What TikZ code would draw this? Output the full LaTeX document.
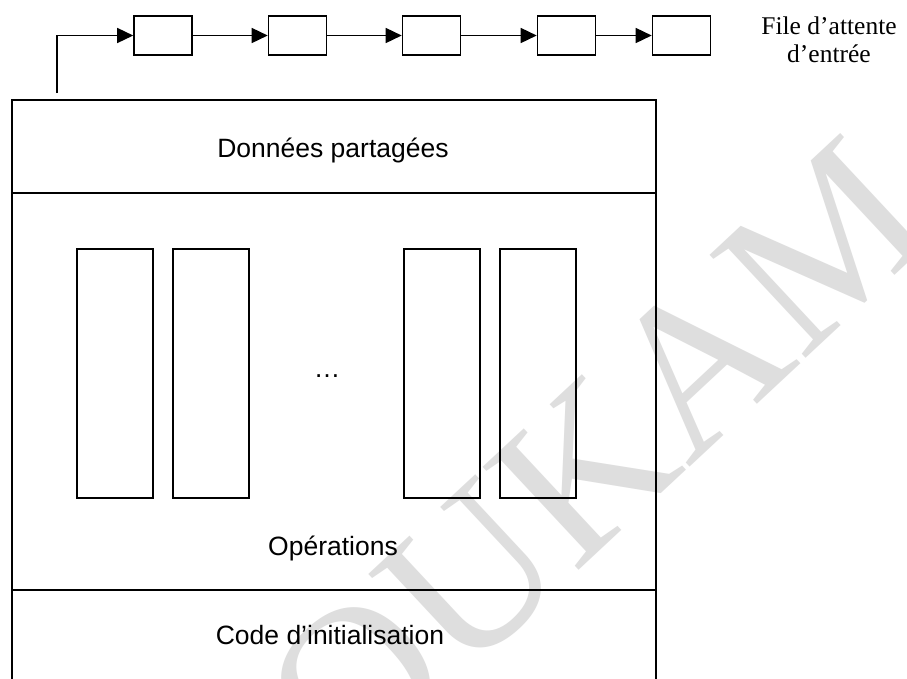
\documentclass[tikz,border=0pt]{standalone}
\usepackage{fontspec}
\setmainfont{Liberation Serif}
\newfontfamily\arialfont{Liberation Sans}
\usetikzlibrary{arrows.meta}

\tikzset{
  frame/.style={line width=2.2pt},
  qbox/.style={draw, line width=1.6pt, minimum width=58pt, minimum height=39pt, inner sep=0pt},
  opbox/.style={draw, line width=1.8pt, minimum width=76pt, minimum height=249pt, inner sep=0pt},
  link/.style={line width=1.5pt, -{Triangle[length=16pt, width=15pt]}},
  label/.style={font=\arialfont\fontsize{26.5}{30}\selectfont, inner sep=0pt, anchor=base},
  caption/.style={font=\fontsize{25.5}{27.5}\selectfont, align=center, inner sep=0pt},
  stamp/.style={font=\fontsize{215}{215}\selectfont, text=black!13, inner sep=0pt, anchor=base}
}

\begin{document}
\begin{tikzpicture}[x=1pt, y=-1pt]
  \useasboundingbox[fill=white] (0,0) rectangle (907,678);

  % background stamp
  \node[stamp, rotate=43] (stamp) at (588,562) {DOUKAM};

  % input queue
  \node[qbox] (q1) at (163,35.5) {};
  \node[qbox] (q2) at (297.5,35.5) {};
  \node[qbox] (q3) at (431.5,35.5) {};
  \node[qbox] (q4) at (566.5,35.5) {};
  \node[qbox] (q5) at (681.5,35.5) {};
  \coordinate (entry) at (57,93);
  \draw[link] (entry) |- (q1.west);
  \draw[link] (q1.east) -- (q2.west);
  \draw[link] (q2.east) -- (q3.west);
  \draw[link] (q3.east) -- (q4.west);
  \draw[link] (q4.east) -- (q5.west);
  \node[caption] (queue) at (829,40) {File d’attente\\d’entrée};

  % monitor body
  \draw[frame] (12,690) -- (12,100) -- (656,100) -- (656,690);
  \draw[frame] (12,193) -- (656,193);
  \draw[frame] (12,590) -- (656,590);

  \node[label] (shared) at (333,157) {Données partagées};

  \node[opbox] (o1) at (115,373.5) {};
  \node[opbox] (o2) at (211,373.5) {};
  \node[opbox] (o3) at (442,373.5) {};
  \node[opbox] (o4) at (538,373.5) {};
  \node[label] (dots) at (327,377) {…};
  \node[label] (ops) at (333,555) {Opérations};

  \node[label] (init) at (330,644) {Code d’initialisation};
\end{tikzpicture}
\end{document}
